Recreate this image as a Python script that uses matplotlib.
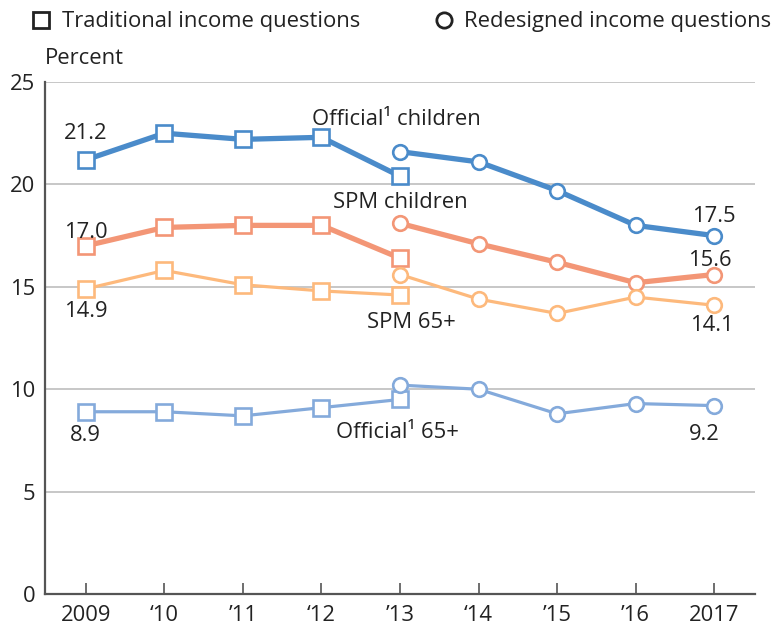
import matplotlib.pyplot as plt
from matplotlib.lines import Line2D

plt.rcParams['font.family'] = ['Open Sans', 'DejaVu Sans']

tick_labels = ['2009', '\u201810', '\u201911', '\u201812', '\u201913', '\u201814', '\u201915', '\u201916', '2017']
trad_x = [0, 1, 2, 3, 4]
redes_x = [4, 5, 6, 7, 8]

# traditional income questions, 2009-2013
off_child_trad = [21.2, 22.5, 22.2, 22.3, 20.4]
spm_child_trad = [17.0, 17.9, 18.0, 18.0, 16.4]
spm_65_trad = [14.9, 15.8, 15.1, 14.8, 14.6]
off_65_trad = [8.9, 8.9, 8.7, 9.1, 9.5]

# redesigned income questions, 2013-2017
off_child_red = [21.6, 21.1, 19.7, 18.0, 17.5]
spm_child_red = [18.1, 17.1, 16.2, 15.2, 15.6]
spm_65_red = [15.6, 14.4, 13.7, 14.5, 14.1]
off_65_red = [10.2, 10.0, 8.8, 9.3, 9.2]

series = [
    (off_child_trad, off_child_red, '#4a8bca', 3.8),
    (spm_child_trad, spm_child_red, '#f39676', 3.8),
    (spm_65_trad, spm_65_red, '#fdb97c', 2.3),
    (off_65_trad, off_65_red, '#84aadb', 2.3),
]

fig = plt.figure(figsize=(7.82, 6.28), dpi=100)
ax = fig.add_axes([0.0575, 0.0541, 0.908, 0.8153])

for trad, red, col, lw in series:
    ax.plot(trad_x, trad, color=col, lw=lw, marker='s', ms=11, mfc='white',
            mec=col, mew=1.9, zorder=3, clip_on=False)
    ax.plot(redes_x, red, color=col, lw=lw, marker='o', ms=10.5, mfc='white',
            mec=col, mew=1.9, zorder=3, clip_on=False)

ax.set_xlim(-0.52, 8.52)
ax.set_ylim(0, 25)
ax.set_yticks([0, 5, 10, 15, 20, 25])
ax.set_xticks(range(9))
ax.set_xticklabels(tick_labels)
ax.grid(axis='y', color='#b8b8b8', lw=1.1, zorder=1)
ax.set_axisbelow(True)
for s in ['top', 'right']:
    ax.spines[s].set_visible(False)
for s in ['left', 'bottom']:
    ax.spines[s].set_color('#555555')
    ax.spines[s].set_linewidth(1.6)

fs = 15.8
tc = '#222222'
ax.tick_params(axis='y', length=0, pad=7, labelsize=fs, labelcolor=tc)
ax.tick_params(axis='x', direction='in', length=8, width=1.2, color='#555555',
               pad=8, labelsize=fs, labelcolor=tc)

notes = [
    (0, 22.5, '21.2'),
    (3.95, 23.15, 'Official\u00b9 children'),
    (4.01, 19.1, 'SPM children'),
    (0, 17.65, '17.0'),
    (0, 13.8, '14.9'),
    (4.15, 13.25, 'SPM 65+'),
    (7.99, 18.45, '17.5'),
    (7.94, 16.3, '15.6'),
    (7.97, 13.12, '14.1'),
    (0, 7.75, '8.9'),
    (3.97, 7.9, 'Official\u00b9 65+'),
    (7.88, 7.8, '9.2'),
]
for x, y, s in notes:
    ax.text(x, y, s, ha='center', va='center', fontsize=fs, color=tc, zorder=4)

# legend and unit label
fig.text(45 / 782, 1 - 59 / 628, 'Percent', ha='left', va='center', fontsize=fs, color=tc)
fig.add_artist(Line2D([41 / 782], [1 - 20 / 628], marker='s', ms=11, mfc='white',
                      mec='#222222', mew=2, transform=fig.transFigure))
fig.text(62 / 782, 1 - 22 / 628, 'Traditional income questions', ha='left', va='center',
         fontsize=fs, color=tc)
fig.add_artist(Line2D([444 / 782], [1 - 20 / 628], marker='o', ms=11, mfc='white',
                      mec='#222222', mew=2, transform=fig.transFigure))
fig.text(464 / 782, 1 - 22 / 628, 'Redesigned income questions', ha='left', va='center',
         fontsize=fs, color=tc)

fig.savefig('out.png', dpi=100)
